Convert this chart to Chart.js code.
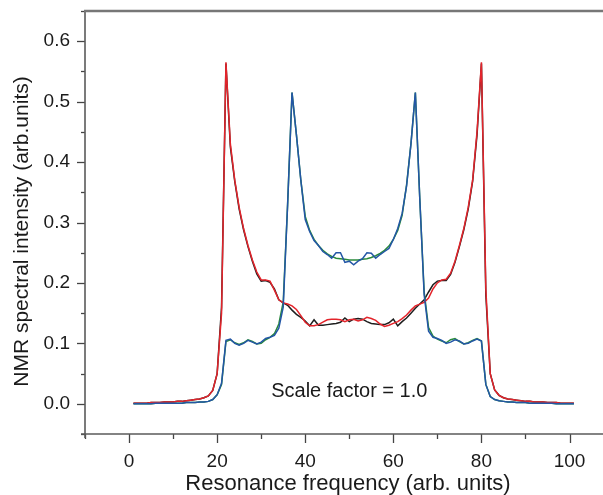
<!DOCTYPE html>
<html><head><meta charset="utf-8">
<script src="https://cdn.jsdelivr.net/npm/chart.js@4/dist/chart.umd.min.js"></script>
<style>html,body{margin:0;padding:0;background:#fff}#wrap{width:603px;height:495px}</style>
</head><body><div id="wrap"><canvas id="c" width="603" height="495"></canvas></div>
<script>
const frequency = [1,2,3,4,5,6,7,8,9,10,11,12,13,14,15,16,17,18,19,20,21,22,23,24,25,26,27,28,29,30,31,32,33,34,35,36,37,38,39,40,41,42,43,44,45,46,47,48,49,50,51,52,53,54,55,56,57,58,59,60,61,62,63,64,65,66,67,68,69,70,71,72,73,74,75,76,77,78,79,80,81,82,83,84,85,86,87,88,89,90,91,92,93,94,95,96,97,98,99,100,101];
const outerRed = [0.001,0.001,0.001,0.001,0.002,0.002,0.002,0.003,0.003,0.003,
 0.004,0.004,0.005,0.006,0.007,0.008,0.010,0.013,0.022,0.050,
 0.150,0.565,0.430,0.370,0.325,0.290,0.262,0.238,0.218,0.205,
 0.205,0.203,0.188,0.172,0.167,0.165,0.162,0.156,0.146,0.135,
 0.129,0.129,0.131,0.135,0.139,0.140,0.140,0.139,0.136,0.139,
 0.140,0.137,0.139,0.143,0.141,0.138,0.132,0.128,0.130,0.133,
 0.136,0.141,0.147,0.155,0.162,0.165,0.168,0.175,0.190,0.200,
 0.205,0.206,0.216,0.236,0.262,0.290,0.325,0.370,0.450,0.565,
 0.190,0.050,0.023,0.014,0.010,0.008,0.007,0.006,0.005,0.004,
 0.004,0.003,0.003,0.003,0.002,0.002,0.002,0.001,0.001,0.001,0.001];
const outerBlack = [0.001,0.001,0.001,0.001,0.002,0.002,0.002,0.003,0.003,0.003,
 0.004,0.004,0.005,0.006,0.007,0.008,0.010,0.013,0.022,0.050,
 0.160,0.563,0.425,0.368,0.322,0.288,0.260,0.236,0.215,0.203,
 0.204,0.201,0.190,0.172,0.167,0.163,0.155,0.148,0.143,0.137,
 0.129,0.139,0.130,0.130,0.131,0.132,0.133,0.135,0.142,0.136,
 0.140,0.141,0.140,0.136,0.133,0.132,0.131,0.131,0.134,0.140,
 0.129,0.136,0.142,0.150,0.158,0.165,0.172,0.185,0.197,0.203,
 0.204,0.204,0.214,0.234,0.260,0.288,0.322,0.368,0.445,0.563,
 0.180,0.050,0.023,0.014,0.010,0.008,0.007,0.006,0.005,0.004,
 0.004,0.003,0.003,0.003,0.002,0.002,0.002,0.001,0.001,0.001,0.001];
const innerBlue = [0,0,0,0,0,0.001,0.001,0.001,0.001,0.001,
 0.001,0.001,0.002,0.002,0.002,0.003,0.003,0.004,0.007,0.015,
 0.034,0.105,0.107,0.100,0.097,0.100,0.105,0.102,0.099,0.102,
 0.108,0.110,0.113,0.125,0.160,0.330,0.515,0.445,0.370,0.305,
 0.285,0.270,0.262,0.252,0.247,0.241,0.250,0.250,0.234,0.236,
 0.230,0.236,0.240,0.250,0.249,0.241,0.247,0.252,0.257,0.272,
 0.290,0.315,0.360,0.430,0.515,0.340,0.180,0.120,0.110,0.108,
 0.105,0.100,0.102,0.106,0.104,0.099,0.100,0.104,0.107,0.104,
 0.032,0.012,0.007,0.005,0.004,0.003,0.003,0.002,0.002,0.002,
 0.001,0.001,0.001,0.001,0.001,0.001,0,0,0,0,0];
const innerGreen = [0,0,0,0,0,0.001,0.001,0.001,0.001,0.001,
 0.001,0.001,0.002,0.002,0.002,0.003,0.003,0.004,0.007,0.015,
 0.032,0.103,0.106,0.101,0.098,0.101,0.106,0.103,0.099,0.100,
 0.106,0.110,0.116,0.132,0.168,0.330,0.515,0.445,0.370,0.310,
 0.287,0.272,0.262,0.254,0.248,0.244,0.241,0.240,0.239,0.238,
 0.238,0.238,0.239,0.240,0.242,0.245,0.249,0.254,0.261,0.272,
 0.287,0.312,0.362,0.430,0.515,0.340,0.185,0.126,0.112,0.107,
 0.104,0.101,0.106,0.108,0.103,0.099,0.101,0.105,0.108,0.104,
 0.032,0.012,0.007,0.005,0.004,0.003,0.003,0.002,0.002,0.002,
 0.001,0.001,0.001,0.001,0.001,0.001,0,0,0,0,0];
const xTickLabels = [0,20,40,60,80,100];
const yTickLabels = [0.0,0.1,0.2,0.3,0.4,0.5,0.6];
const annotationText = 'Scale factor = 1.0';
const xTitle = 'Resonance frequency (arb. units)';
const yTitle = 'NMR spectral intensity (arb.units)';

const pts = arr => arr.map((v,i)=>({x:frequency[i], y:v}));
const FONT = 'Liberation Sans, Arial, Helvetica, sans-serif';
const AX = '#5a5a5a';

const framePlugin = {
  id:'frame',
  afterDraw(chart){
    const {ctx, chartArea:a, scales:{x,y}} = chart;
    ctx.save();
    ctx.strokeStyle = '#444'; ctx.lineWidth = 1.3;
    for (let v=-10; v<=110; v+=10){
      const px = Math.round(x.getPixelForValue(v))+0.5;
      if (px < a.left-1 || px > a.right) continue;
      const len = (v%20===0) ? 9 : 5;
      ctx.beginPath(); ctx.moveTo(px,a.bottom); ctx.lineTo(px,a.bottom+len); ctx.stroke();
    }
    for (let k=-1; k<=13; k++){
      const v = k*0.05;
      const py = Math.round(y.getPixelForValue(v))+0.5;
      if (py < a.top || py > a.bottom+1) continue;
      const len = (k%2===0) ? 8 : 4;
      ctx.beginPath(); ctx.moveTo(a.left,py); ctx.lineTo(a.left-len,py); ctx.stroke();
    }
    ctx.strokeStyle = AX; ctx.lineWidth = 1.6;
    ctx.beginPath(); ctx.moveTo(a.left, a.top); ctx.lineTo(a.left, a.bottom+4); ctx.stroke();
    ctx.beginPath(); ctx.moveTo(a.left-4, a.bottom); ctx.lineTo(a.right, a.bottom); ctx.stroke();
    ctx.strokeStyle = '#777'; ctx.lineWidth = 2.5;
    ctx.beginPath(); ctx.moveTo(a.left-1, a.top); ctx.lineTo(a.right, a.top); ctx.stroke();
    ctx.fillStyle = '#1a1a1a'; ctx.font = '20px '+FONT;
    ctx.textAlign = 'center'; ctx.textBaseline = 'middle';
    ctx.fillText(annotationText, x.getPixelForValue(50), y.getPixelForValue(0.02));
    // axis titles
    ctx.font = '22px '+FONT;
    ctx.fillText(xTitle, a.left + (a.right - a.left)/2 + 4, a.bottom + 50);
    ctx.font = '21px '+FONT;
    ctx.translate(22, a.top + (a.bottom - a.top)/2 + 9);
    ctx.rotate(-Math.PI/2);
    ctx.fillText(yTitle, 0, 0);
    ctx.restore();
  }
};

const ds = (label, data, color) => ({label, data: pts(data), borderColor: color, borderWidth: 1.5,
  pointRadius: 0, tension: 0, fill: false});

new Chart(document.getElementById('c'), {
  type:'line',
  data:{datasets:[
    ds('Simulation inner', innerBlue, '#2356a6'),
    ds('Simulation outer', outerRed, '#e3242b'),
    ds('Experiment inner', innerGreen, '#2a8a3c'),
    ds('Experiment outer', outerBlack, '#1e1e1e')
  ]},
  options:{
    responsive:false, animation:false, devicePixelRatio:1,
    layout:{padding:{top:11,right:0,left:0,bottom:0}},
    plugins:{legend:{display:false}, tooltip:{enabled:false}},
    scales:{
      x:{type:'linear', min:-10, max:107.6,
        afterFit(s){ s.height = 61; s.paddingLeft = 0; s.paddingRight = 0; },
        grid:{display:false, drawTicks:false}, border:{display:false},
        ticks:{stepSize:10, includeBounds:false, autoSkip:false, maxRotation:0, padding:16,
          color:'#1a1a1a', font:{family:FONT, size:19},
          callback(v){ return xTickLabels.includes(v) ? String(v) : null; }},
        title:{display:false}
      },
      y:{type:'linear', min:-0.05, max:0.65,
        afterFit(s){ s.width = 85; s.paddingTop = 0; s.paddingBottom = 0; },
        grid:{display:false, drawTicks:false}, border:{display:false},
        ticks:{stepSize:0.05, includeBounds:false, autoSkip:false, padding:15,
          color:'#1a1a1a', font:{family:FONT, size:19},
          callback(v){ const r = Math.round(v*10)/10; return (Math.abs(v-r)<1e-6 && yTickLabels.includes(r)) ? r.toFixed(1) : null; }},
        title:{display:false}
      }
    }
  },
  plugins:[framePlugin]
});
</script></body></html>
